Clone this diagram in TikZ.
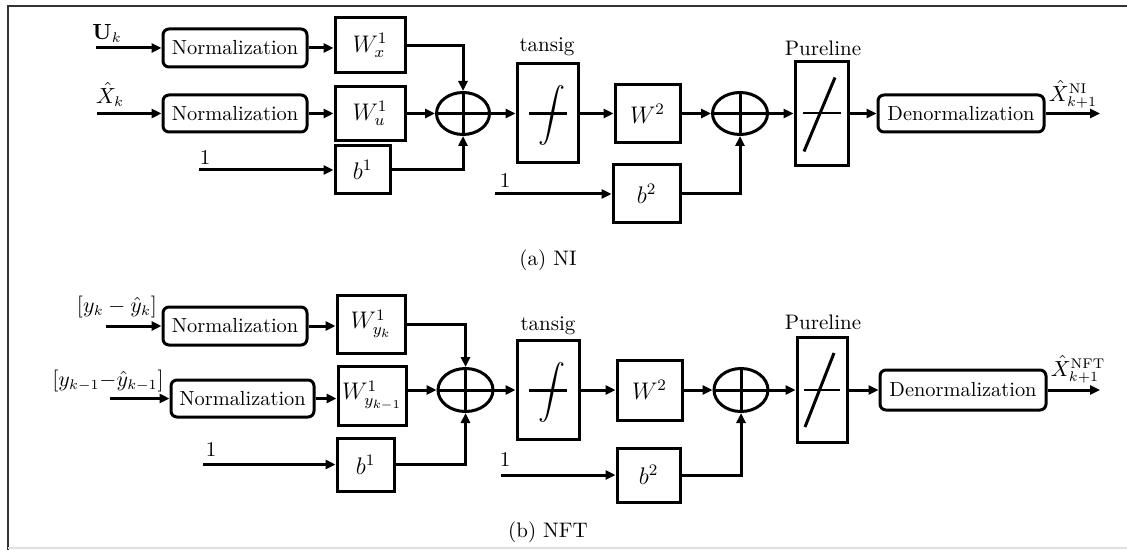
\documentclass[tikz,border=0pt]{standalone}
\usepackage{graphicx}
\usetikzlibrary{arrows.meta,shapes.geometric,calc}
\begin{document}
\begin{tikzpicture}[x=0.5pt,y=-0.5pt,
  lw/.style={line width=1.5pt},
  sz/.style 2 args={minimum width=#1*0.5pt, minimum height=#2*0.5pt},
  box/.style={draw,lw,inner sep=0pt,font=\fontsize{11.5}{13}\selectfont},
  rbox/.style={draw,lw,inner sep=0pt,rounded corners=3pt,font=\fontsize{10.2}{12}\selectfont},
  sumnode/.style={draw,lw,ellipse,inner sep=0pt},
  arr/.style={lw,-{Triangle[length=5pt,width=4.5pt]}},
  lbl/.style={inner sep=0pt,font=\fontsize{10.5}{12}\selectfont},
  intsym/.style={inner sep=0pt}]
\newcommand\bigint{\resizebox*{!}{30pt}{$\displaystyle\int$}}
\useasboundingbox (0,0) rectangle (1127,550);
\draw[line width=1pt, black!80] (8,550) -- (8,6) -- (1127,6);
\draw[line width=0.8pt, black!12] (8,548) -- (1127,548);

% ---------------- panel (a) ----------------
\node[rbox,sz={144}{38}] (n1) at (235,48) {Normalization};
\node[rbox,sz={144}{37}] (n2) at (235,113.5) {Normalization};
\node[box,sz={70}{55}] (wx) at (370,45.5) {$W_x^1$};
\node[box,sz={70}{54}] (wu) at (370,113.5) {$W_u^1$};
\node[box,sz={55}{48}] (b1) at (362.5,170) {$b^1$};
\node[sumnode,sz={53}{42}] (s1) at (463,113.5) {};
\node[box,sz={61}{99}] (ta) at (547.5,113.5) {};
\node[box,sz={65}{58}] (w2) at (647.5,113.5) {$W^2$};
\node[sumnode,sz={55}{42}] (s2) at (740,113.5) {};
\node[box,sz={67}{58}] (b2) at (646.5,194) {$b^2$};
\node[box,sz={53}{104}] (pu) at (821.5,113.5) {};
\node[rbox,sz={166}{37}] (de) at (961,113.5) {Denormalization};

\node[lbl,anchor=south] (lu) at (107,43) {$\mathbf{U}_k$};
\node[lbl,anchor=south] (lx) at (110,107) {$\hat{X}_k$};
\node[lbl,anchor=south] (l1) at (205,165) {1};
\node[lbl,anchor=south] (l2) at (505,188) {1};
\node[lbl] (lt) at (547,47) {tansig};
\node[lbl] (lp) at (823,48) {Pureline};
\node[lbl,anchor=south] (lo) at (1073,109) {$\hat{X}_{k+1}^{\mathrm{NI}}$};
\node[lbl] (ca) at (548,260) {(a) NI};

\coordinate (iu) at (96,48);
\coordinate (ix) at (97,113.5);
\coordinate (i1) at (199,170);
\coordinate (i2) at (495,194);
\coordinate (oa) at (1100,113.5);

\draw[arr] (iu) -- (n1.west);
\draw[arr] (ix) -- (n2.west);
\draw[arr] (n1.east) -- (n1.east -| wx.west);
\draw[arr] (n2.east) -- (wu.west);
\draw[arr] (i1) -- (b1.west);
\draw[arr] (wx.east) -| (s1.north);
\draw[arr] (wu.east) -- (s1.west);
\draw[arr] (b1.east) -| (s1.south);
\draw[lw] (s1.north) -- (s1.south) (s1.west) -- (s1.east);
\draw[arr] (s1.east) -- (ta.west);
\draw[arr] (ta.east) -- (w2.west);
\draw[arr] (w2.east) -- (s2.west);
\draw[arr] (i2) -- (b2.west);
\draw[arr] (b2.east) -| (s2.south);
\draw[lw] (s2.north) -- (s2.south) (s2.west) -- (s2.east);
\draw[arr] (s2.east) -- (pu.west);
\draw[arr] (pu.east) -- (de.west);
\draw[arr] (de.east) -- (oa);
% tansig symbol
\draw[lw] ($(ta.center)+(-19,0)$) -- ($(ta.center)+(19,0)$);
\node[intsym] at ($(ta.center)+(4,2)$) {\bigint};
% pureline symbol
\draw[line width=1pt] ($(pu.center)+(-19,0)$) -- ($(pu.center)+(19,0)$);
\draw[lw] ($(pu.center)+(-17.5,38)$) -- ($(pu.center)+(13.5,-36)$);

% ---------------- panel (b) ----------------
\node[rbox,sz={144}{38}] (m1) at (235,326) {Normalization};
\node[rbox,sz={143}{37}] (m2) at (242.5,398.5) {Normalization};
\node[box,sz={68}{58}] (wy) at (371,324) {$W_{y_k}^1$};
\node[box,sz={68}{59}] (wz) at (372,395.5) {$W_{y_{k-1}}^1$};
\node[box,sz={57}{53}] (c1) at (365.5,464.5) {$b^1$};
\node[sumnode,sz={55}{43}] (t1) at (465.5,390) {};
\node[box,sz={62}{99}] (tb) at (548,390) {};
\node[box,sz={65}{60}] (v2) at (649.5,390) {$W^2$};
\node[sumnode,sz={54}{43}] (t2) at (741,390) {};
\node[box,sz={63}{54}] (c2) at (648.5,475) {$b^2$};
\node[box,sz={50}{105}] (pb) at (822,390) {};
\node[rbox,sz={166}{40}] (db) at (963,390) {Denormalization};

\node[lbl,anchor=south] (ly) at (117,318) {$[y_k-\hat{y}_k]$};
\node[lbl,anchor=south] (lz) at (108,392) {$[y_{k-1}{-}\hat{y}_{k-1}]$};
\node[lbl,anchor=south] (k1) at (211,457) {1};
\node[lbl,anchor=south] (k2) at (505,467) {1};
\node[lbl] (lt2) at (548,326) {tansig};
\node[lbl] (lp2) at (823,322) {Pureline};
\node[lbl,anchor=south] (lo2) at (1078,384) {$\hat{X}_{k+1}^{\mathrm{NFT}}$};
\node[lbl] (cb) at (548,532) {(b) NFT};

\coordinate (jy) at (106,326);
\coordinate (jz) at (110,398.5);
\coordinate (j1) at (203,464.5);
\coordinate (j2) at (501,475);
\coordinate (ob) at (1100,390);

\draw[arr] (jy) -- (m1.west);
\draw[arr] (jz) -- (m2.west);
\draw[arr] (m1.east) -- (m1.east -| wy.west);
\draw[arr] (m2.east) -- (m2.east -| wz.west);
\draw[arr] (j1) -- (c1.west);
\draw[arr] (wy.east) -| (t1.north);
\draw[arr] (wz.east |- t1.west) -- (t1.west);
\draw[arr] (c1.east) -| (t1.south);
\draw[lw] (t1.north) -- (t1.south) (t1.west) -- (t1.east);
\draw[arr] (t1.east) -- (tb.west);
\draw[arr] (tb.east) -- (v2.west);
\draw[arr] (v2.east) -- (t2.west);
\draw[arr] (j2) -- (c2.west);
\draw[arr] (c2.east) -| (t2.south);
\draw[lw] (t2.north) -- (t2.south) (t2.west) -- (t2.east);
\draw[arr] (t2.east) -- (pb.west);
\draw[arr] (pb.east) -- (db.west);
\draw[arr] (db.east) -- (ob);
\draw[lw] ($(tb.center)+(-19,0)$) -- ($(tb.center)+(19,0)$);
\node[intsym] at ($(tb.center)+(4,2)$) {\bigint};
\draw[line width=1pt] ($(pb.center)+(-18,0)$) -- ($(pb.center)+(18,0)$);
\draw[lw] ($(pb.center)+(-17,37)$) -- ($(pb.center)+(12,-37)$);
\end{tikzpicture}
\end{document}
